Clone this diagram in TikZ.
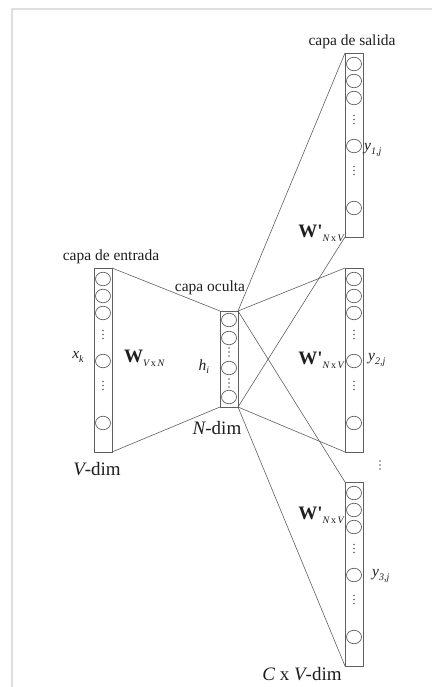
\documentclass[tikz,border=0pt]{standalone}
\usepackage{fontspec}
\setmainfont{Liberation Serif}
\usetikzlibrary{positioning,shapes.geometric}

\definecolor{linegray}{RGB}{95,95,95}
\definecolor{framegray}{RGB}{222,222,222}
\definecolor{inkgray}{RGB}{30,30,30}

\newcommand{\lbl}{\fontsize{15.5}{18}\selectfont}
\newcommand{\dimlbl}{\fontsize{19}{22}\selectfont}
\newcommand{\subidx}[1]{\raisebox{-0.45ex}{\fontsize{10}{10}\selectfont\mdseries\itshape #1}}

\tikzset{
  layer/.style={draw=linegray, line width=0.8, minimum width=18, minimum height=184, inner sep=0, outer sep=0},
  unit/.style={ellipse, draw=linegray, line width=0.7, minimum width=15, minimum height=13.5, inner sep=0},
  conn/.style={draw=linegray, line width=0.6},
  txt/.style={text=inkgray, inner sep=0}
}

\begin{document}
\begin{tikzpicture}[x=1pt, y=-1pt]
\useasboundingbox (0,0) rectangle (432,687);
\draw[framegray, line width=1.2](12,687) -- (12,9) -- (432,9);

% input layer and the three output layers
\foreach \nm/\cx/\ty in {inp/103/268, out1/354/53, out2/354/268, out3/354/482} {
  \node[layer] (\nm) at (\cx,\ty+92) {};
  \foreach \dy [count=\i] in {11,28,45,93,155}
    \node[unit] (\nm-u\i) at (\cx,\ty+\dy) {};
  \foreach \dy in {66.5,117.5}
    \foreach \d in {-4,0,4}
      \fill[linegray] (\cx,\ty+\dy+\d) circle (0.9);
}

% hidden layer
\node[layer, minimum height=96] (hid) at (229,359) {};
\foreach \dy [count=\i] in {9,27,57,86}
  \node[unit] (hid-u\i) at (229,311+\dy) {};
\foreach \dy in {41,72}
  \foreach \d in {-4,0,4}
    \fill[linegray] (229,311+\dy+\d) circle (0.9);

% weights
\draw[conn] (inp.north east) -- (hid.north west);
\draw[conn] (inp.south east) -- (hid.south west);
\foreach \o in {out1,out2,out3} {
  \draw[conn] (hid.north east) -- (\o.north west);
  \draw[conn] (hid.south east) -- (\o.south west);
}

% more output panels
\foreach \d in {-4,0,4}
  \fill[linegray] (380,465+\d) circle (0.9);

% labels
\node[txt] (lin) at (111,257) {\lbl capa de entrada};
\node[txt] (lhid) at (210,288) {\lbl capa oculta};
\node[txt] (lout) at (352,42) {\lbl capa de salida};
\node[txt] (xk) at (78,357) {\lbl\itshape x\subidx{k}};
\node[txt, anchor=west] (win) at (124,358) {\dimlbl\bfseries W\subidx{V\,\upshape x\,\itshape N}};
\node[txt] (hi) at (204,367) {\lbl\itshape h\subidx{i}};
\node[txt] (ndim) at (217,428) {\dimlbl\itshape N\upshape-dim};
\node[txt] (vdim) at (97,469) {\dimlbl\itshape V\upshape-dim};
\node[txt, anchor=east] (wout1) at (344,233) {\dimlbl\bfseries W\textquotesingle\subidx{N\,\upshape x\,\itshape V}};
\node[txt, anchor=east] (wout2) at (344,360) {\dimlbl\bfseries W\textquotesingle\subidx{N\,\upshape x\,\itshape V}};
\node[txt, anchor=east] (wout3) at (344,515) {\dimlbl\bfseries W\textquotesingle\subidx{N\,\upshape x\,\itshape V}};
\node[txt, anchor=west] (y1) at (364,150) {\lbl\itshape y\subidx{1,j}};
\node[txt, anchor=west] (y2) at (368,360) {\lbl\itshape y\subidx{2,j}};
\node[txt, anchor=west] (y3) at (372,576) {\lbl\itshape y\subidx{3,j}};
\node[txt] (cvdim) at (302,674) {\dimlbl\itshape C \upshape x \itshape V\upshape-dim};
\end{tikzpicture}
\end{document}
